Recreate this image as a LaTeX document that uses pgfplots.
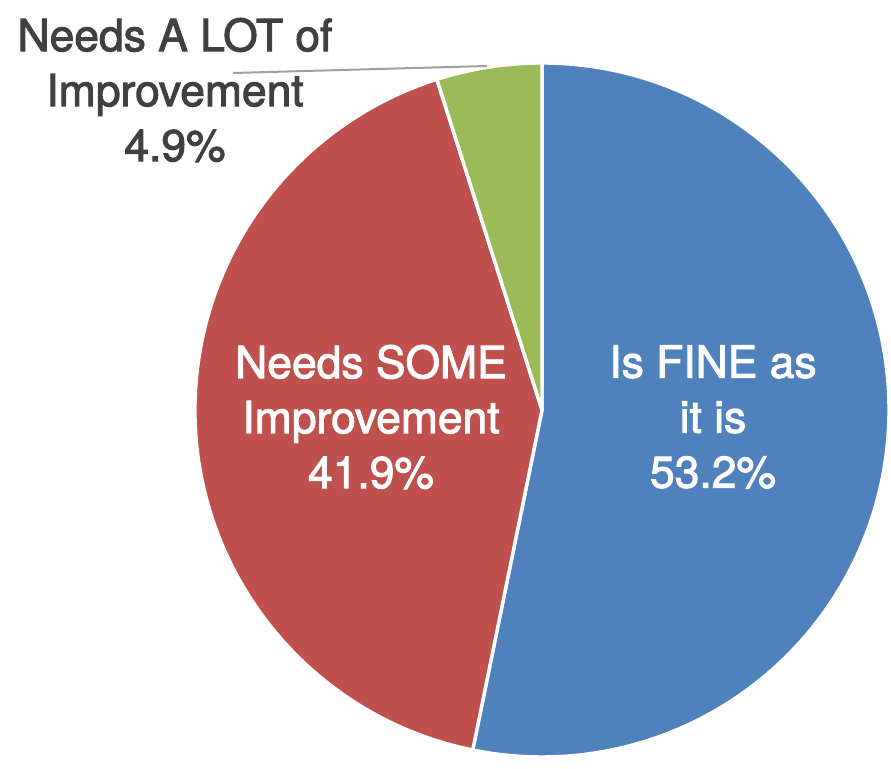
\documentclass[border=0pt]{standalone}
\usepackage{pgfplots}
\pgfplotsset{compat=1.18}
\usepackage{pgfplotstable}
\usepackage{fontspec}
\setmainfont{TeX Gyre Heros}
\newfontfamily\lblfont[FakeBold=2.2]{TeX Gyre Heros}
\definecolor{pieblue}{HTML}{4F81BD}
\definecolor{piered}{HTML}{C0504D}
\definecolor{piegreen}{HTML}{9BBB59}
\definecolor{labelgray}{HTML}{404040}
\definecolor{leadergray}{HTML}{A0A0A0}

\pgfplotstableread{
label value
fine 53.2
some 41.9
lot 4.9
}\piedata

\begin{document}%
\begin{tikzpicture}
\pgfplotstablegetelem{0}{value}\of\piedata \let\vA\pgfplotsretval
\pgfplotstablegetelem{1}{value}\of\piedata \let\vB\pgfplotsretval
\pgfplotstablegetelem{2}{value}\of\piedata \let\vC\pgfplotsretval
\pgfmathsetmacro{\aO}{90}
\pgfmathsetmacro{\aA}{\aO-3.6*\vA}
\pgfmathsetmacro{\aB}{\aA-3.6*\vB}
\pgfmathsetmacro{\aC}{\aB-3.6*\vC}
\begin{axis}[
  width=445.5bp, height=380bp, scale only axis,
  xmin=0, xmax=891, ymin=0, ymax=760,
  hide axis, clip=false,
  /pgf/number format/assume math mode=true,
]
\path (axis cs:0,0) (axis cs:891,760);
% slices
\filldraw[fill=pieblue, draw=white, line width=1.7bp, line join=round]
  (axis cs:542,350) -- ++(\aO:173.5bp) arc[start angle=\aO, end angle=\aA, radius=173.5bp] -- cycle;
\filldraw[fill=piered, draw=white, line width=1.7bp, line join=round]
  (axis cs:542,350) -- ++(\aA:173.5bp) arc[start angle=\aA, end angle=\aB, radius=173.5bp] -- cycle;
\filldraw[fill=piegreen, draw=white, line width=1.7bp, line join=round]
  (axis cs:542,350) -- ++(\aB:173.5bp) arc[start angle=\aB, end angle=\aC, radius=173.5bp] -- cycle;
% leader line
\draw[leadergray, line width=1bp] (axis cs:233,687) -- (axis cs:487,694);
% labels
\node[align=center, inner sep=0pt, text=white, font=\lblfont\fontsize{22.2bp}{27.5bp}\selectfont]
  at (axis cs:713,343) {Is FINE as\\it is\\\pgfmathprintnumber[fixed,precision=1,assume math mode=true]{\vA}\%};
\node[align=center, inner sep=0pt, text=white, font=\lblfont\fontsize{22.2bp}{27.5bp}\selectfont]
  at (axis cs:371,343) {Needs SOME\\Improvement\\\pgfmathprintnumber[fixed,precision=1,assume math mode=true]{\vB}\%};
\node[align=center, inner sep=0pt, text=labelgray, font=\lblfont\fontsize{22.2bp}{27.5bp}\selectfont]
  at (axis cs:175,670) {Needs A LOT of\\Improvement\\\pgfmathprintnumber[fixed,precision=1,assume math mode=true]{\vC}\%};
\end{axis}
\end{tikzpicture}%
\end{document}
